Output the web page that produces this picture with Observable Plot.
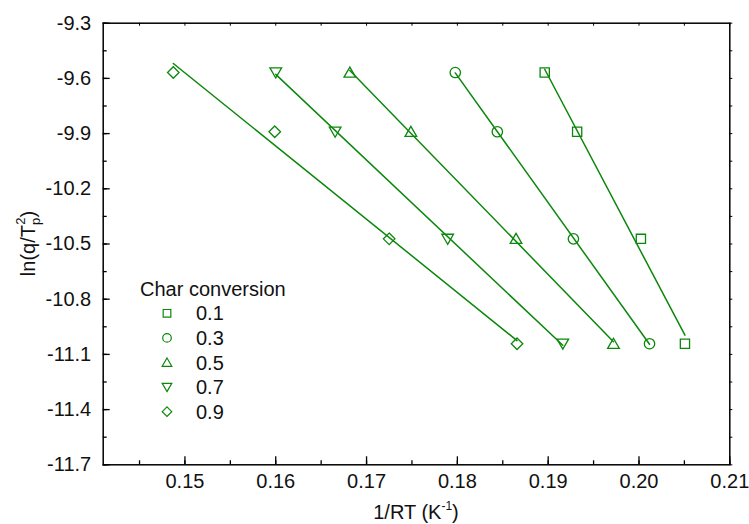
<!DOCTYPE html>
<html>
<head>
<meta charset="utf-8">
<script src="https://cdn.jsdelivr.net/npm/d3@7"></script>
<script src="https://cdn.jsdelivr.net/npm/@observablehq/plot@0.6"></script>
<style>
  html, body { margin: 0; padding: 0; background: white; }
</style>
</head>
<body>
<div id="chart"></div>
<script>
// ---- data ----
const conversions = ["0.1", "0.3", "0.5", "0.7", "0.9"];
const lnQT2 = [-9.568, -9.890, -10.472, -11.042];          // y values (rows, heating rates)
const invRT01 = [0.18962, 0.19319, 0.20021, 0.20506];
const invRT03 = [0.17977, 0.18440, 0.19278, 0.20116];
const invRT05 = [0.16816, 0.17488, 0.18646, 0.19719];
const invRT07 = [0.16000, 0.16654, 0.17893, 0.19161];
const invRT09 = [0.14872, 0.15989, 0.17249, 0.18657];
const xTicks = [0.15, 0.16, 0.17, 0.18, 0.19, 0.20, 0.21];
const yTicks = [-9.3, -9.6, -9.9, -10.2, -10.5, -10.8, -11.1, -11.4, -11.7];

// ---- table ----
const seriesX = [invRT01, invRT03, invRT05, invRT07, invRT09];
const data = conversions.flatMap((c, i) => seriesX[i].map((x, j) => ({conv: c, x, y: lnQT2[j]})));

// ---- symbols ----
const triUp = {draw(ctx, size) {
  const r = Math.sqrt(size / Math.PI);
  ctx.moveTo(0, -1.05 * r); ctx.lineTo(1.12 * r, 0.88 * r); ctx.lineTo(-1.12 * r, 0.88 * r); ctx.closePath();
}};
const triDown = {draw(ctx, size) {
  const r = Math.sqrt(size / Math.PI);
  ctx.moveTo(0, 1.05 * r); ctx.lineTo(1.12 * r, -0.88 * r); ctx.lineTo(-1.12 * r, -0.88 * r); ctx.closePath();
}};
const symbolsFor = [d3.symbolSquare, d3.symbolCircle, triUp, triDown, d3.symbolDiamond2];

const green = "#0b870b";
const W = 749, H = 524, mL = 102.7, mR = 19.7, mT = 22.7, mB = 59.7;
const plotW = W - mL - mR, plotH = H - mT - mB;

const xMinor = d3.range(0, 15).map(i => +(0.14 + i * 0.005).toFixed(3)).filter(v => v > 0.141 && v < 0.2101);
const yMinor = d3.range(0, 17).map(i => +(-11.7 + i * 0.15).toFixed(2));

const marks = [
  Plot.frame({stroke: "black", strokeWidth: 1.5}),
  // inward ticks bottom / left
  Plot.tickX(xMinor, {x: d => d, insetTop: plotH - 4, stroke: "black", strokeWidth: 1.3}),
  Plot.tickX(xTicks, {x: d => d, insetTop: plotH - 8, stroke: "black", strokeWidth: 1.3}),
  Plot.tickY(yMinor, {y: d => d, insetRight: plotW - 4, stroke: "black", strokeWidth: 1.3}),
  Plot.tickY(yTicks, {y: d => d, insetRight: plotW - 7, stroke: "black", strokeWidth: 1.3}),
  // small ticks on top and right
  Plot.tickX(xMinor, {x: d => d, insetBottom: plotH - 3, stroke: "black", strokeWidth: 1}),
  Plot.tickY(yMinor, {y: d => d, insetLeft: plotW, insetRight: -3, stroke: "black", strokeWidth: 1}),
  Plot.axisX({ticks: xTicks, tickSize: 0, tickPadding: 9, tickFormat: d => d.toFixed(2), label: null, fontSize: 20, fill: "#111"}),
  Plot.axisY({ticks: yTicks, tickSize: 0, tickPadding: 12, tickFormat: d => d.toFixed(1), label: null, fontSize: 20, fill: "#111"}),
  Plot.linearRegressionY(data, {x: "x", y: "y", z: "conv", stroke: green, strokeWidth: 1.5, ci: 0})
];
conversions.forEach((c, i) => {
  marks.push(Plot.dot(data.filter(d => d.conv === c), {x: "x", y: "y", symbol: symbolsFor[i], r: 5.2, stroke: green, strokeWidth: 1.3, fill: "none"}));
});

const chart = Plot.plot({
  width: W, height: H,
  marginLeft: mL, marginRight: mR, marginTop: mT, marginBottom: mB,
  x: {domain: [0.141, 0.21]},
  y: {domain: [-11.7, -9.3]},
  style: {fontFamily: "'Liberation Sans', Arial, sans-serif", fontSize: "20px", background: "white", color: "#111"},
  marks
});
document.getElementById("chart").appendChild(chart);

// ---- axis titles and legend (text) ----
const svg = d3.select(chart);
const font = "'Liberation Sans', Arial, sans-serif";

// y title: ln(q/T_p^2)
const yt = svg.append("text")
  .attr("transform", `translate(35, ${mT + plotH / 2}) rotate(-90)`)
  .attr("text-anchor", "middle")
  .attr("font-family", font).attr("font-size", 20).attr("fill", "#111");
yt.append("tspan").text("ln(q/T");
yt.append("tspan").attr("font-size", 13).attr("dy", 5).text("p");
yt.append("tspan").attr("font-size", 13).attr("dx", -7).attr("dy", -15).text("2");
yt.append("tspan").attr("dy", 10).text(")");

// x title: 1/RT (K^-1)
const xt = svg.append("text")
  .attr("x", mL + plotW / 2).attr("y", 519)
  .attr("text-anchor", "middle")
  .attr("font-family", font).attr("font-size", 20).attr("fill", "#111");
xt.append("tspan").text("1/RT (K");
xt.append("tspan").attr("font-size", 12).attr("dy", -9).text("-1");
xt.append("tspan").attr("dy", 9).text(")");

// legend
const lg = svg.append("g").attr("font-family", font).attr("font-size", 20).attr("fill", "#111").attr("text-anchor", "start");
lg.append("text").attr("x", 140).attr("y", 295.5).attr("text-anchor", "start").text("Char conversion");
conversions.forEach((c, i) => {
  const cy = 313.3 + i * 24.6;
  lg.append("path")
    .attr("transform", `translate(167, ${cy})`)
    .attr("d", d3.symbol(symbolsFor[i], Math.PI * 4.3 * 4.3)())
    .attr("fill", "none").attr("stroke", green).attr("stroke-width", 1.2);
  lg.append("text").attr("x", 196).attr("y", cy + 7).attr("text-anchor", "start").text(c);
});
</script>
</body>
</html>
